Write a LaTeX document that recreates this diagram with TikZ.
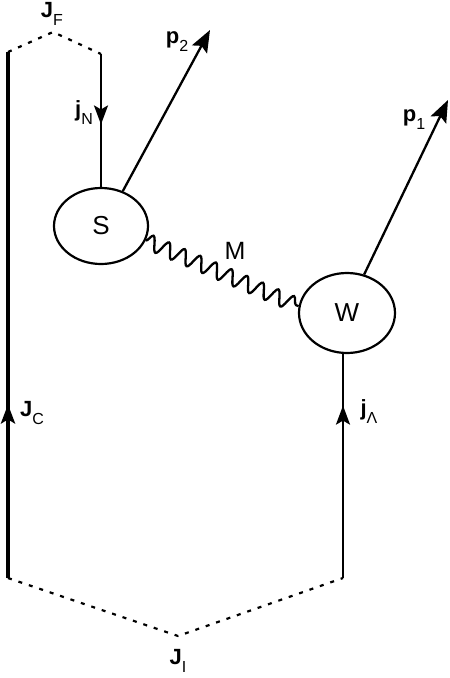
\documentclass[tikz,border=0pt]{standalone}
\usepackage{fontspec}
\setmainfont{Liberation Sans}
\usetikzlibrary{arrows.meta,decorations.pathmorphing,decorations.markings,shapes.geometric}
\newcommand{\lowsub}[1]{\raisebox{-8pt}{\fontsize{16}{16}\selectfont #1}}
\begin{document}
\begin{tikzpicture}[x=1pt,y=-1pt,
  line/.style={line width=2.3pt},
  thickline/.style={line width=4pt},
  dashline/.style={line width=2.2pt,dash pattern=on 4pt off 7pt},
  tip/.style={-{Stealth[length=22pt,width=17pt,inset=4pt]}},
  midup/.style={postaction={decorate},decoration={markings,mark=at position #1 with {\arrow{Stealth[length=19pt,width=14pt,inset=4pt]}}}},
  blob/.style={draw,line width=2.2pt,ellipse,inner sep=0pt,font=\fontsize{26}{26}\selectfont},
  lab/.style={font=\fontsize{22}{22}\selectfont,inner sep=0pt}
]
\useasboundingbox (0,0) rectangle (450,678);
% coordinates
\coordinate (lt) at (8,52);
\coordinate (lb) at (8,578);
\coordinate (rt) at (101,54);
\coordinate (ft) at (53,32);
\coordinate (rb) at (343,578);
\coordinate (it) at (178,636);
\coordinate (p2) at (210,30);
\coordinate (p1) at (448,100);
\node[blob,minimum width=94pt,minimum height=76pt] (S) at (101,226) {S};
\node[blob,minimum width=96pt,minimum height=80pt] (W) at (347,313) {W};
% lines
\draw[thickline,midup=0.33] (lb) -- (lt);
\draw[line,midup=0.77] (rb) -- (rb |- W.south);
\draw[line,midup=0.53] (rt) -- (S.north);
\draw[line,tip] (S.58) -- (p2);
\draw[line,tip] (W.66) -- (p1);
\draw[dashline] (lt) -- (ft) -- (rt);
\draw[dashline] (lb) -- (it) -- (rb);
\draw[line,decorate,decoration={snake,amplitude=7.5pt,segment length=17pt}] (S.-18) -- (W.172);
% labels
\node[lab] (JF) at (52,14) {\textbf{J}\lowsub{F}};
\node[lab] (jN) at (84,113) {\textbf{j}\lowsub{N}};
\node[lab] (P2) at (177,42) {\textbf{p}\lowsub{2}};
\node[lab] (P1) at (414,120) {\textbf{p}\lowsub{1}};
\node[lab,font=\fontsize{25}{25}\selectfont] (M) at (235,251) {M};
\node[lab] (JC) at (32,413) {\textbf{J}\lowsub{C}};
\node[lab] (jL) at (369,412) {\textbf{j}\lowsub{Λ}};
\node[lab] (JI) at (178,661) {\textbf{J}\lowsub{I}};
\end{tikzpicture}
\end{document}
